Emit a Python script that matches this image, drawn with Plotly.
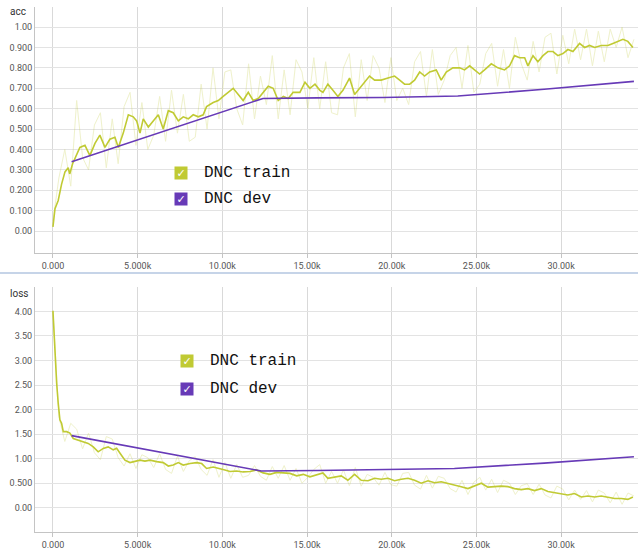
import plotly.graph_objects as go

# ---------------- data ----------------
series_names = ["DNC train", "DNC dev"]
panel_titles = ["acc", "loss"]

x_tick_vals = [0, 5000, 10000, 15000, 20000, 25000, 30000]
x_tick_text = ["0.000", "5.000k", "10.00k", "15.00k", "20.00k", "25.00k", "30.00k"]

acc_tick_vals = [0.0, 0.1, 0.2, 0.3, 0.4, 0.5, 0.6, 0.7, 0.8, 0.9, 1.0, 1.1]
acc_tick_text = ["0.00", "0.100", "0.200", "0.300", "0.400", "0.500", "0.600",
                 "0.700", "0.800", "0.900", "1.00", ""]
loss_tick_vals = [0.0, 0.5, 1.0, 1.5, 2.0, 2.5, 3.0, 3.5, 4.0, 4.5]
loss_tick_text = ["0.00", "0.500", "1.00", "1.50", "2.00", "2.50", "3.00", "3.50", "4.00", ""]

# raw (unsmoothed) train values, sampled every 350 steps
raw_steps = [i * 350 for i in range(99)]
acc_train_raw = [0.05, 0.26, 0.40, 0.22, 0.64, 0.36, 0.30, 0.52, 0.58, 0.31,
                 0.55, 0.33, 0.61, 0.68, 0.42, 0.63, 0.40, 0.47, 0.66, 0.44,
                 0.69, 0.48, 0.67, 0.44, 0.46, 0.72, 0.50, 0.80, 0.55, 0.78,
                 0.79, 0.60, 0.52, 0.82, 0.55, 0.76, 0.62, 0.86, 0.55, 0.79,
                 0.57, 0.84, 0.78, 0.60, 0.85, 0.60, 0.83, 0.58, 0.57, 0.80,
                 0.87, 0.56, 0.84, 0.64, 0.86, 0.80, 0.63, 0.85, 0.64, 0.70,
                 0.62, 0.83, 0.88, 0.66, 0.89, 0.67, 0.74, 0.86, 0.90, 0.70,
                 0.91, 0.68, 0.72, 0.87, 0.92, 0.71, 0.89, 0.70, 0.95, 0.82,
                 0.74, 0.93, 0.78, 0.95, 0.97, 0.77, 0.96, 0.82, 0.99, 0.84,
                 0.99, 0.81, 0.98, 0.83, 0.99, 0.90, 1.00, 0.85, 0.94]
loss_train_raw = [4.02, 1.85, 1.35, 1.72, 1.60, 1.20, 1.52, 1.12, 0.98, 1.45,
                  1.40, 1.02, 0.85, 1.10, 0.80, 1.08, 1.02, 0.82, 1.10, 0.78,
                  0.70, 1.05, 0.74, 0.96, 1.04, 0.78, 0.66, 0.98, 0.62, 0.92,
                  0.60, 0.88, 0.62, 0.66, 0.86, 0.64, 0.56, 0.84, 0.60, 0.86,
                  0.56, 0.80, 0.50, 0.62, 0.78, 0.88, 0.50, 0.74, 0.50, 0.77,
                  0.45, 0.82, 0.44, 0.68, 0.62, 0.46, 0.72, 0.47, 0.44, 0.70,
                  0.72, 0.46, 0.38, 0.66, 0.40, 0.64, 0.60, 0.39, 0.32, 0.56,
                  0.27, 0.52, 0.62, 0.36, 0.58, 0.31, 0.56, 0.50, 0.27, 0.45,
                  0.49, 0.27, 0.48, 0.26, 0.20, 0.44, 0.38, 0.16, 0.36, 0.17,
                  0.35, 0.12, 0.36, 0.30, 0.10, 0.32, 0.07, 0.30, 0.24]

# smoothed train curves
acc_smooth_steps = [0, 120, 310, 510, 710, 900, 990, 1160, 1590, 1890, 2180, 2480,
                    2770, 3070, 3360, 3660, 3860, 4150, 4450, 4740, 4940, 5140,
                    5330, 5630, 5920, 6220, 6510, 6810, 7100, 7400, 7690, 7990,
                    8280, 8580, 8870, 9070, 9460, 9760, 10050, 10350, 10640,
                    10940, 11230, 11530, 11820, 12120, 12410, 12710, 13000,
                    13300, 13600, 13890, 14180, 14580, 14880, 15170, 15470,
                    15760, 15940, 16230, 16530, 16820, 17120, 17510, 17810,
                    18100, 18400, 18690, 18990, 19380, 19780, 20170, 20470,
                    20760, 21060, 21350, 21650, 21940, 22240, 22630, 22920,
                    23220, 23610, 24010, 24300, 24600, 24890, 25190, 25480,
                    25880, 26270, 26660, 26960, 27250, 27550, 27850, 28040,
                    28340, 28630, 28930, 29220, 29520, 29810, 30110, 30400,
                    30700, 31090, 31390, 31680, 31980, 32370, 32760, 33060,
                    33350, 33650, 33940, 34240]
acc_train_smooth = [0.02, 0.11, 0.15, 0.23, 0.29, 0.31, 0.28, 0.33, 0.41, 0.42,
                    0.37, 0.43, 0.47, 0.41, 0.45, 0.46, 0.41, 0.48, 0.57, 0.56,
                    0.54, 0.48, 0.55, 0.51, 0.54, 0.57, 0.50, 0.59, 0.58, 0.54,
                    0.56, 0.55, 0.57, 0.56, 0.57, 0.61, 0.63, 0.64, 0.66, 0.68,
                    0.70, 0.67, 0.64, 0.68, 0.64, 0.65, 0.68, 0.71, 0.70, 0.64,
                    0.66, 0.65, 0.68, 0.68, 0.73, 0.70, 0.72, 0.69, 0.68, 0.72,
                    0.69, 0.66, 0.69, 0.75, 0.67, 0.70, 0.73, 0.76, 0.74, 0.74,
                    0.75, 0.76, 0.74, 0.72, 0.72, 0.74, 0.78, 0.76, 0.78, 0.79,
                    0.74, 0.78, 0.80, 0.80, 0.79, 0.81, 0.79, 0.77, 0.79, 0.82,
                    0.80, 0.79, 0.81, 0.86, 0.85, 0.85, 0.81, 0.86, 0.83, 0.86,
                    0.88, 0.88, 0.86, 0.87, 0.89, 0.88, 0.92, 0.90, 0.91, 0.90,
                    0.91, 0.91, 0.92, 0.93, 0.94, 0.93, 0.90]

loss_smooth_steps = [0, 120, 220, 310, 410, 510, 610, 810, 1000, 1200, 1490, 1790,
                     2080, 2380, 2670, 2970, 3260, 3560, 3760, 3960, 4250, 4550,
                     4840, 5140, 5430, 5730, 6120, 6510, 6810, 7100, 7400, 7690,
                     8090, 8480, 8780, 9070, 9460, 9860, 10150, 10450, 10840,
                     11230, 11630, 12020, 12410, 12810, 13200, 13600, 13990,
                     14390, 14780, 15170, 15640, 15940, 16230, 16630, 17020,
                     17410, 17810, 18200, 18600, 18990, 19380, 19780, 20170,
                     20560, 20960, 21350, 21740, 22140, 22530, 22920, 23320,
                     23710, 24100, 24500, 24890, 25290, 25680, 26070, 26470,
                     26860, 27250, 27650, 28040, 28430, 28830, 29220, 29610,
                     30010, 30400, 30790, 31190, 31580, 31980, 32370, 32760,
                     33160, 33550, 33940, 34240]
loss_train_smooth = [4.01, 3.14, 2.53, 2.13, 1.79, 1.72, 1.55, 1.55, 1.52, 1.41,
                     1.38, 1.34, 1.31, 1.24, 1.14, 1.21, 1.24, 1.18, 1.21, 1.11,
                     0.97, 0.92, 0.94, 0.97, 0.95, 0.97, 0.94, 0.92, 0.85, 0.87,
                     0.92, 0.87, 0.90, 0.92, 0.90, 0.80, 0.83, 0.80, 0.77, 0.74,
                     0.75, 0.73, 0.74, 0.77, 0.71, 0.68, 0.72, 0.71, 0.70, 0.65,
                     0.68, 0.63, 0.68, 0.71, 0.60, 0.62, 0.65, 0.56, 0.68, 0.56,
                     0.55, 0.60, 0.58, 0.60, 0.55, 0.58, 0.60, 0.56, 0.50, 0.55,
                     0.51, 0.53, 0.50, 0.46, 0.43, 0.39, 0.44, 0.50, 0.42, 0.43,
                     0.44, 0.43, 0.39, 0.37, 0.39, 0.35, 0.39, 0.33, 0.31, 0.28,
                     0.26, 0.29, 0.22, 0.24, 0.22, 0.24, 0.22, 0.19, 0.19, 0.17,
                     0.22]

# dev evaluations
acc_dev_steps = [1100, 12400, 15600, 19500, 23900, 29000, 34300]
acc_dev = [0.34, 0.650, 0.653, 0.655, 0.662, 0.695, 0.734]
loss_dev_steps = [1100, 12300, 15600, 19500, 23700, 29000, 34300]
loss_dev = [1.47, 0.75, 0.76, 0.78, 0.80, 0.91, 1.04]

# ---------------- style ----------------
TRAIN = "#c0ca33"
DEV = "#673ab7"
W, H = 638, 552
ML = 35


def px_x(p):
    return (p - ML) / (W - ML)


def px_y(p):
    return 1 - p / H


fig = go.Figure()

panels = [
    (acc_train_raw, acc_smooth_steps, acc_train_smooth, acc_dev_steps, acc_dev, "x", "y"),
    (loss_train_raw, loss_smooth_steps, loss_train_smooth, loss_dev_steps, loss_dev, "x2", "y2"),
]
for raw, ss, sv, ds, dv, xa, ya in panels:
    fig.add_trace(go.Scatter(x=raw_steps, y=raw, mode="lines", xaxis=xa, yaxis=ya,
                             line=dict(color=TRAIN, width=1), opacity=0.25,
                             showlegend=False, hoverinfo="skip"))
    fig.add_trace(go.Scatter(x=ss, y=sv, mode="lines", xaxis=xa, yaxis=ya,
                             line=dict(color=TRAIN, width=1.6), name=series_names[0],
                             showlegend=False))
    fig.add_trace(go.Scatter(x=ds, y=dv, mode="lines", xaxis=xa, yaxis=ya,
                             line=dict(color=DEV, width=1.6), name=series_names[1],
                             showlegend=False))

tick_font = dict(family="Roboto, Arial, sans-serif", size=9, color="#555")
xcommon = dict(range=[-1060, 34540], tickvals=x_tick_vals, ticktext=x_tick_text,
               showgrid=True, gridcolor="#d9d9d9", gridwidth=1, zeroline=False,
               showline=True, linecolor="#c4c4c4", linewidth=1,
               ticks="outside", ticklen=4, tickcolor="#c4c4c4",
               tickfont=tick_font, automargin=False)
ycommon = dict(showgrid=True, gridcolor="#e3e3e3", gridwidth=1, zeroline=False,
               showline=True, linecolor="#c4c4c4", linewidth=1, ticks="",
               tickfont=tick_font, automargin=False)

top_domain = [px_y(253), px_y(6.6)]
bot_domain = [px_y(532.3), px_y(286.7)]

fig.update_layout(
    width=W, height=H,
    margin=dict(l=ML, r=0, t=0, b=0),
    paper_bgcolor="white", plot_bgcolor="white",
    xaxis=dict(anchor="y", domain=[0, 1], **xcommon),
    xaxis2=dict(anchor="y2", domain=[0, 1], **xcommon),
    yaxis=dict(anchor="x", domain=top_domain, range=[-0.1078, 1.1005],
               tickvals=acc_tick_vals, ticktext=acc_tick_text, **ycommon),
    yaxis2=dict(anchor="x2", domain=bot_domain, range=[-0.5, 4.503],
                tickvals=loss_tick_vals, ticktext=loss_tick_text, **ycommon),
)

shapes = [
    dict(type="line", xref="paper", yref="paper", x0=px_x(0), x1=px_x(W),
         y0=px_y(273), y1=px_y(273), line=dict(color="#b3c6e0", width=1.5)),
    dict(type="rect", xref="paper", yref="paper", x0=px_x(168), x1=px_x(305),
         y0=px_y(212), y1=px_y(155), fillcolor="white", line=dict(width=0), layer="between"),
    dict(type="rect", xref="paper", yref="paper", x0=px_x(173), x1=px_x(300),
         y0=px_y(402), y1=px_y(347), fillcolor="white", line=dict(width=0), layer="between"),
]

annotations = [
    dict(text=panel_titles[0], x=px_x(17.5), y=px_y(12), xref="paper", yref="paper",
         showarrow=False, xanchor="center", yanchor="middle",
         font=dict(family="Roboto, Arial, sans-serif", size=10, color="#333")),
    dict(text=panel_titles[1], x=px_x(19), y=px_y(293), xref="paper", yref="paper",
         showarrow=False, xanchor="center", yanchor="middle",
         font=dict(family="Roboto, Arial, sans-serif", size=10, color="#333")),
]

legend_positions = [
    (181, 202, [172.5, 199]),
    (186.7, 208, [361, 389]),
]
for box_x, text_x, ys in legend_positions:
    for name, color, yy in zip(series_names, [TRAIN, DEV], ys):
        annotations.append(dict(
            text="✓", x=px_x(box_x), y=px_y(yy), xref="paper", yref="paper",
            showarrow=False, xanchor="center", yanchor="middle",
            width=12, height=12, borderpad=0, bgcolor=color,
            font=dict(family="DejaVu Sans", size=11, color="white")))
        annotations.append(dict(
            text=name, x=px_x(text_x), y=px_y(yy), xref="paper", yref="paper",
            showarrow=False, xanchor="left", yanchor="middle",
            font=dict(family="Courier New, Liberation Mono, monospace", size=16, color="#111")))

fig.update_layout(shapes=shapes, annotations=annotations)

# remove the browser's default 8px body margin so the figure fills the window
fig.write_html("out.html", config={"displayModeBar": False},
               post_script="document.body.style.margin='0';document.body.style.overflow='hidden';")
